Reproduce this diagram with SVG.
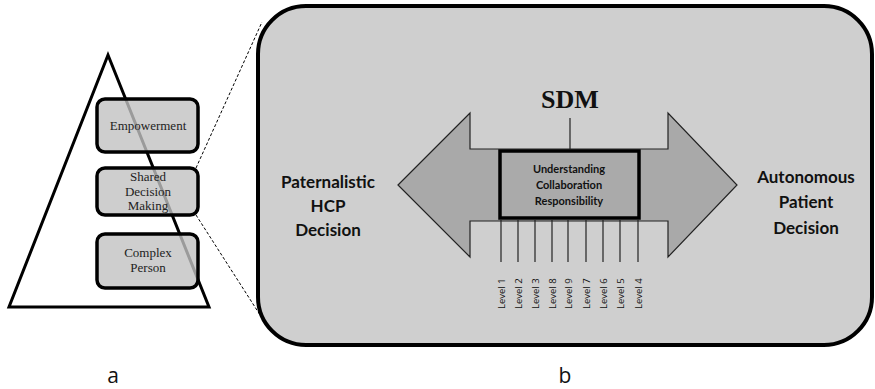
<svg xmlns="http://www.w3.org/2000/svg" width="875" height="389" viewBox="0 0 875 389">
  <style>
    .tier { fill: #c2c2c2; fill-opacity: 0.8; stroke: #000; stroke-width: 3.5; }
    .tier-text { font-family: "Liberation Serif", serif; font-size: 13px; fill: #222; text-anchor: middle; }
    .side { font-family: Lato, "Liberation Sans", sans-serif; font-weight: bold; font-size: 17px; fill: #111; text-anchor: middle; }
    .core { font-family: Lato, "Liberation Sans", sans-serif; font-weight: bold; font-size: 11px; fill: #111; text-anchor: middle; }
    .lvl { font-family: "Open Sans", "Liberation Sans", sans-serif; font-size: 9.5px; fill: #111; }
    .tick { stroke: #222; stroke-width: 1.2; }
    .cap { font-family: "Open Sans", "Liberation Sans", sans-serif; font-size: 21px; fill: #111; text-anchor: middle; }
    .zoom { stroke: #000; stroke-width: 1; stroke-dasharray: 3 2; fill: none; }
  </style>

  <rect width="875" height="389" fill="#fff"/>

  <!-- panel a: pyramid -->
  <g id="pyramid">
    <polygon points="108,55 209,307 9,307" fill="#fff" stroke="#000" stroke-width="3"/>
  </g>
  <g id="empowerment">
    <rect class="tier" x="97" y="99" width="101" height="53" rx="8"/>
    <text class="tier-text" x="148" y="130">Empowerment</text>
  </g>
  <g id="shared-decision-making">
    <rect class="tier" x="97" y="168" width="101" height="47" rx="8"/>
    <text class="tier-text" x="148" y="181">Shared</text>
    <text class="tier-text" x="148" y="196">Decision</text>
    <text class="tier-text" x="148" y="210">Making</text>
  </g>
  <g id="complex-person">
    <rect class="tier" x="97" y="234" width="101" height="54" rx="8"/>
    <text class="tier-text" x="148" y="257">Complex</text>
    <text class="tier-text" x="148" y="272">Person</text>
  </g>

  <!-- connectors: zoom lines from SDM tier to panel b -->
  <g id="connectors">
    <line class="zoom" x1="196" y1="168" x2="262" y2="22"/>
    <line class="zoom" x1="196" y1="215" x2="262" y2="318"/>
  </g>

  <!-- panel b -->
  <g id="panel-b">
    <rect x="258" y="6" width="614" height="339" rx="48" fill="#cfcfcf" stroke="#000" stroke-width="4"/>
  </g>

  <g id="sdm-arrow">
    <polygon points="398,185 470,113 470,149 668,149 668,113 737,185 668,257 668,221 470,221 470,257" fill="#a9a9a9" stroke="#222" stroke-width="1.2"/>
  </g>

  <g id="sdm-title">
    <text x="570" y="108" font-family="Liberation Serif, serif" font-weight="bold" font-size="26" fill="#111" text-anchor="middle">SDM</text>
    <line x1="570" y1="118" x2="570" y2="149" stroke="#222" stroke-width="1.2"/>
  </g>

  <g id="core-box">
    <rect x="500" y="151" width="139" height="67" fill="#aaaaaa" stroke="#000" stroke-width="3.5"/>
    <text class="core" x="569" y="173">Understanding</text>
    <text class="core" x="569" y="189">Collaboration</text>
    <text class="core" x="569" y="205">Responsibility</text>
  </g>

  <g id="levels">
    <g class="tick">
      <line x1="501" y1="220" x2="501" y2="262"/>
      <line x1="518" y1="220" x2="518" y2="262"/>
      <line x1="535" y1="220" x2="535" y2="262"/>
      <line x1="552" y1="220" x2="552" y2="262"/>
      <line x1="568" y1="220" x2="568" y2="262"/>
      <line x1="586" y1="220" x2="586" y2="262"/>
      <line x1="603" y1="220" x2="603" y2="262"/>
      <line x1="620" y1="220" x2="620" y2="262"/>
      <line x1="638" y1="220" x2="638" y2="262"/>
    </g>
    <text class="lvl" transform="translate(504.5,309) rotate(-90)">Level 1</text>
    <text class="lvl" transform="translate(521.5,309) rotate(-90)">Level 2</text>
    <text class="lvl" transform="translate(538.5,309) rotate(-90)">Level 3</text>
    <text class="lvl" transform="translate(555.5,309) rotate(-90)">Level 8</text>
    <text class="lvl" transform="translate(571.5,309) rotate(-90)">Level 9</text>
    <text class="lvl" transform="translate(589.5,309) rotate(-90)">Level 7</text>
    <text class="lvl" transform="translate(606.5,309) rotate(-90)">Level 6</text>
    <text class="lvl" transform="translate(623.5,309) rotate(-90)">Level 5</text>
    <text class="lvl" transform="translate(641.5,309) rotate(-90)">Level 4</text>
  </g>

  <g id="paternalistic">
    <text class="side" x="328" y="188">Paternalistic</text>
    <text class="side" x="328" y="212">HCP</text>
    <text class="side" x="328" y="236">Decision</text>
  </g>
  <g id="autonomous">
    <text class="side" x="806" y="183">Autonomous</text>
    <text class="side" x="806" y="208">Patient</text>
    <text class="side" x="806" y="234">Decision</text>
  </g>

  <text class="cap" x="113" y="383">a</text>
  <text class="cap" x="565" y="383">b</text>
</svg>
